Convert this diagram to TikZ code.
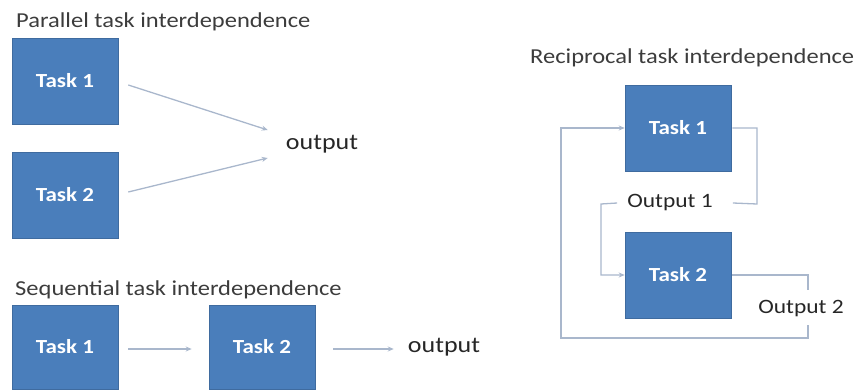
\documentclass[tikz,border=0pt]{standalone}
\usepackage{fontspec}
\setmainfont{Carlito}[FakeStretch=1.15]
\usetikzlibrary{arrows.meta}
\definecolor{boxblue}{HTML}{4A7EBB}
\definecolor{linegray}{HTML}{A9B7CC}
\definecolor{titlegray}{HTML}{3C3C3C}
\begin{document}
\begin{tikzpicture}[x=1pt,y=-1pt,
 taskbox/.style={fill=boxblue, draw=boxblue!85!black, line width=0.6pt, minimum width=106pt, minimum height=86pt, inner sep=0pt, text=white, font=\fontsize{20}{20}\selectfont\bfseries},
 conn/.style={draw=linegray, line width=1.3pt, -{Stealth[length=6pt,width=5pt]}},
 plain/.style={draw=linegray, line width=1.3pt},
 title/.style={text=titlegray, font=\fontsize{21.3}{21.3}\selectfont, anchor=base west, inner sep=0pt},
 outtext/.style={text=black!85, font=\fontsize{22.6}{22.6}\selectfont, inner sep=0pt},
 smallout/.style={text=black!85, font=\fontsize{20.4}{20.4}\selectfont, inner sep=0pt}]
\useasboundingbox (0,0) rectangle (859,390);
% Parallel
\node[title] (pt) at (16,28) {Parallel task interdependence};
\node[taskbox] (p1) at (65,81) {Task 1};
\node[taskbox] (p2) at (65,195) {Task 2};
\node[outtext] (po) at (322,144) {output};
\draw[conn] ([shift={(10,4)}]p1.east) -- ([shift={(-18,-14)}]po.west);
\draw[conn] ([shift={(10,-3)}]p2.east) -- ([shift={(-18,14)}]po.west);
% Sequential
\node[title] (st) at (15,295) {Sequential task interdependence};
\node[taskbox, minimum height=84pt] (s1) at (65,347) {Task 1};
\node[taskbox, minimum height=84pt] (s2) at (262,347) {Task 2};
\node[outtext] (so) at (444,347) {output};
\draw[conn] ([shift={(10,2)}]s1.east) -- ([shift={(-17,2)}]s2.west);
\draw[conn] ([shift={(18,2)}]s2.east) -- ([shift={(-14,2)}]so.west);
% Reciprocal
\node[title] (rt) at (530,64) {Reciprocal task interdependence};
\node[taskbox] (r1) at (678,128) {Task 1};
\node[taskbox] (r2) at (678,275) {Task 2};
\node[smallout] (o1) at (670,203) {Output 1};
\node[smallout] (o2) at (801,309) {Output 2};
\coordinate (c1) at (757,204);
\coordinate (c2) at (601,204);
\coordinate (c3) at (808,290);
\coordinate (c4) at (808,325);
\coordinate (c5) at (808,338);
\coordinate (c6) at (561,338);
\draw[plain] ([xshift=1pt]r1.east) -| (c1) -- ([xshift=20pt]o1.east);
\draw[conn] ([xshift=-10pt]o1.west) -- (c2) |- (r2.west);
\draw[plain] ([xshift=1pt]r2.east) -| (c3);
\draw[conn] (c4) -- (c5) -- (c6) |- (r1.west);
\end{tikzpicture}
\end{document}
